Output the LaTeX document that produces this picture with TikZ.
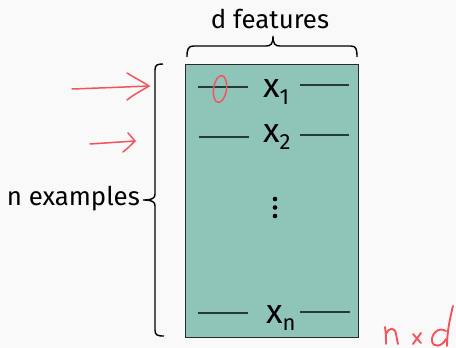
\documentclass[tikz,border=0pt]{standalone}
\usepackage{fontspec}
\setmainfont{Fira Sans}
\definecolor{bg}{HTML}{F9F9F9}
\definecolor{matfill}{HTML}{8FC4B9}
\definecolor{matedge}{HTML}{2A2A2A}
\definecolor{rowline}{HTML}{263B36}
\definecolor{pen}{HTML}{F2545B}
\begin{document}
\begin{tikzpicture}[x=1pt,y=-1pt,
  label text/.style={inner sep=0pt, font=\fontsize{25.8}{30}\selectfont},
  row label/.style={inner sep=0pt, anchor=base west, font=\fontsize{34}{36}\selectfont},
  row rule/.style={draw=rowline, line width=1.2pt},
  bracket/.style={draw=black, line width=1.4pt},
  ink/.style={draw=pen, line width=1.5pt, line cap=round, line join=round}]
  \fill[bg] (0,0) rectangle (456,348);
  \useasboundingbox (0,0) rectangle (456,348);

  % data matrix
  \node[draw=matedge, fill=matfill, line width=0.9pt, inner sep=0pt,
        minimum width=173pt, minimum height=273pt, anchor=north west] (mat) at (185,64) {};

  % rows
  \newcommand{\subsc}[1]{\raisebox{-7pt}{\fontsize{22}{24}\selectfont #1}}
  \node[row label] (x1) at (263,97) {x\subsc{1}};
  \node[row label] (x2) at (263,142) {x\subsc{2}};
  \node[row label] (xn) at (266,323) {x\subsc{n}};
  \draw[row rule] (198,87) -- (248,87);
  \draw[row rule] (300,85) -- (349,85);
  \draw[row rule] (199,137) -- (249,137);
  \draw[row rule] (300,135) -- (349,135);
  \draw[row rule] (198,313) -- (248,313);
  \draw[row rule] (300,312) -- (350,312);
  \foreach \y in {199,207.5,216} \fill[black] (275,\y) circle (2.3pt);

  % labels
  \node[label text, anchor=base] (dfeat) at (270,28) {d features};
  \node[label text, anchor=base east] (nex) at (140,205) {n examples};

  % braces
  \draw[bracket] (187,57) .. controls (187,49) and (188,46) .. (194,46) -- (266,46)
     .. controls (271,46) and (273,44) .. (273,36)
     .. controls (273,44) and (275,46) .. (280,46) -- (351,46)
     .. controls (356,46) and (357,49) .. (357,57);
  \draw[bracket] (163,64) .. controls (157,64) and (155,65) .. (155,70) -- (155,194)
     .. controls (155,198) and (153,200) .. (143,200)
     .. controls (153,200) and (155,202) .. (155,206) -- (155,330)
     .. controls (155,335) and (157,336) .. (164,336);

  % handwritten annotations
  \draw[ink] (72,89) .. controls (100,88) and (125,87) .. (149,86);
  \draw[ink] (127,73) .. controls (135,78) and (143,82) .. (149,86)
     .. controls (141,91) and (133,95) .. (127,100);
  \draw[ink] (90,144) .. controls (105,143) and (120,142) .. (135,141);
  \draw[ink] (128,133) .. controls (131,136) and (133,139) .. (135,141)
     .. controls (131,145) and (127,149) .. (123,152);
  \draw[ink] (220,89) ellipse[x radius=6.5pt, y radius=13.5pt, rotate=-8];

  % n x d
  \begin{scope}[ink, line width=1.9pt]
    \draw (385,327) .. controls (386,333) and (386,339) .. (386,344);
    \draw (386,334) .. controls (389,327) and (395,327) .. (396,334)
       .. controls (397,338) and (397,341) .. (398,344);
    \draw (413,334) -- (421,343);
    \draw (421,333) -- (413,344);
    \draw (446,331) .. controls (438,326) and (431,335) .. (432,341)
       .. controls (433,348) and (442,347) .. (446,339);
    \draw (453,306) .. controls (450,318) and (447,332) .. (447,346);
  \end{scope}
\end{tikzpicture}
\end{document}
